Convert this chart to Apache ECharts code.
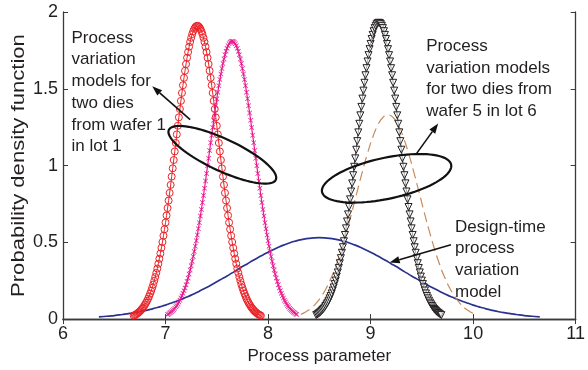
<!DOCTYPE html>
<html>
<head>
<meta charset="utf-8">
<script src="https://cdn.jsdelivr.net/npm/echarts@6/dist/echarts.min.js"></script>
<style>
  html, body { margin: 0; padding: 0; background: #fff; }
  #chart { width: 588px; height: 370px; }
</style>
</head>
<body>
<div id="chart"></div>
<script>
// Axis ranges / ticks
const xRange = [6, 11];
const yRange = [0, 2];
const xTickStep = 1;
const yTickStep = 0.5;

// Die-level models, wafer 1 / lot 1 (sampled every 0.01)
const redStart = 6.69, redStep = 0.01;
const redPdf = [
  0.023,0.026,0.030,0.034,0.039,0.045,0.051,0.058,0.066,0.074,
  0.084,0.095,0.106,0.119,0.133,0.149,0.166,0.184,0.204,0.225,
  0.249,0.274,0.301,0.329,0.360,0.393,0.427,0.464,0.502,0.543,
  0.585,0.629,0.675,0.723,0.772,0.822,0.874,0.928,0.982,1.036,
  1.092,1.147,1.203,1.259,1.314,1.368,1.421,1.473,1.523,1.571,
  1.617,1.661,1.702,1.739,1.774,1.805,1.832,1.856,1.875,1.890,
  1.901,1.908,
  1.910,
  1.908,1.901,1.890,1.875,1.856,1.832,1.805,1.774,1.739,1.702,
  1.661,1.617,1.571,1.523,1.473,1.421,1.368,1.314,1.259,1.203,
  1.147,1.092,1.036,0.982,0.928,0.874,0.822,0.772,0.723,0.675,
  0.629,0.585,0.543,0.502,0.464,0.427,0.393,0.360,0.329,0.301,
  0.274,0.249,0.225,0.204,0.184,0.166,0.149,0.133,0.119,0.106,
  0.095,0.084,0.074,0.066,0.058,0.051,0.045,0.039,0.034,0.030,
  0.026,0.023
];

const magStart = 7.02, magStep = 0.01;
const magPdf = [
  0.030,0.034,0.039,0.044,0.050,0.056,0.063,0.071,0.080,0.089,
  0.099,0.111,0.123,0.137,0.152,0.168,0.185,0.203,0.223,0.245,
  0.268,0.293,0.319,0.347,0.376,0.407,0.440,0.474,0.511,0.548,
  0.588,0.628,0.671,0.714,0.759,0.805,0.852,0.900,0.949,0.998,
  1.048,1.098,1.148,1.197,1.247,1.295,1.343,1.389,1.435,1.478,
  1.520,1.560,1.597,1.632,1.665,1.694,1.721,1.744,1.764,1.780,
  1.793,1.803,1.808,
  1.810,
  1.808,1.803,1.793,1.780,1.764,1.744,1.721,1.694,1.665,1.632,
  1.597,1.560,1.520,1.478,1.435,1.389,1.343,1.295,1.247,1.197,
  1.148,1.098,1.048,0.998,0.949,0.900,0.852,0.805,0.759,0.714,
  0.671,0.628,0.588,0.548,0.511,0.474,0.440,0.407,0.376,0.347,
  0.319,0.293,0.268,0.245,0.223,0.203,0.185,0.168,0.152,0.137,
  0.123,0.111,0.099,0.089,0.080,0.071,0.063,0.056,0.050,0.044,
  0.039,0.034,0.030
];

// Die-level models, wafer 5 / lot 6
const blackStart = 8.47, blackStep = 0.01;
const blackPdf = [
  0.026,0.030,0.035,0.040,0.045,0.052,0.059,0.066,0.075,0.085,
  0.096,0.107,0.120,0.135,0.150,0.167,0.186,0.206,0.228,0.251,
  0.277,0.304,0.333,0.364,0.397,0.432,0.468,0.507,0.548,0.591,
  0.636,0.682,0.730,0.780,0.831,0.884,0.937,0.992,1.047,1.103,
  1.159,1.216,1.272,1.327,1.382,1.436,1.488,1.539,1.588,1.634,
  1.678,1.719,1.758,1.792,1.824,1.851,1.875,1.895,1.910,1.921,
  1.928,
  1.930,
  1.928,1.921,1.910,1.895,1.875,1.851,1.824,1.792,1.758,1.719,
  1.678,1.634,1.588,1.539,1.488,1.436,1.382,1.327,1.272,1.216,
  1.159,1.103,1.047,0.992,0.937,0.884,0.831,0.780,0.730,0.682,
  0.636,0.591,0.548,0.507,0.468,0.432,0.397,0.364,0.333,0.304,
  0.277,0.251,0.228,0.206,0.186,0.167,0.150,0.135,0.120,0.107,
  0.096,0.085,0.075,0.066,0.059,0.052,0.045,0.040,0.035,0.030,
  0.026
];

const brownStart = 8.32, brownStep = 0.05;
const brownPdf = [
  0.031,0.048,0.071,0.104,0.148,0.204,0.276,0.362,0.464,0.579,
  0.703,0.833,0.961,1.080,1.183,1.263,1.313,
  1.330,
  1.313,1.263,1.183,1.080,0.961,0.833,0.703,0.579,0.464,0.362,
  0.276,0.204,0.148,0.104,0.071,0.048,0.031
];

// Design-time model (sampled every 0.05)
const blueStart = 6.35, blueStep = 0.05;
const bluePdf = [
  0.014,0.017,0.020,0.023,0.027,0.032,0.037,0.042,0.048,0.055,
  0.063,0.072,0.081,0.091,0.103,0.115,0.128,0.142,0.156,0.172,
  0.189,0.206,0.224,0.243,0.262,0.281,0.301,0.321,0.342,0.361,
  0.381,0.400,0.418,0.436,0.452,0.468,0.482,0.494,0.505,0.514,
  0.521,0.526,0.529,
  0.530,
  0.529,0.526,0.521,0.514,0.505,0.494,0.482,0.468,0.452,0.436,
  0.418,0.400,0.381,0.361,0.342,0.321,0.301,0.281,0.262,0.243,
  0.224,0.206,0.189,0.172,0.156,0.142,0.128,0.115,0.103,0.091,
  0.081,0.072,0.063,0.055,0.048,0.042,0.037,0.032,0.027,0.023,
  0.020,0.017,0.014
];

const xTitle = 'Process parameter';
const yTitle = 'Probability density function';
const labelLeft = ['Process', 'variation', 'models for', 'two dies', 'from wafer 1', 'in lot 1'];
const labelRight = ['Process', 'variation models', 'for two dies from', 'wafer 5 in lot 6'];
const labelDesign = ['Design-time', 'process', 'variation', 'model'];

function pairs(start, step, ys) {
  return ys.map((v, i) => [+(start + i * step).toFixed(3), v]);
}

const FONT = '"Liberation Sans", Arial, Helvetica, sans-serif';
const INK = '#231f20';

const chart = echarts.init(document.getElementById('chart'), null, { renderer: 'canvas' });

const frameAxis = { show: true, lineStyle: { color: '#3a3a3a', width: 1.3 } };
const innerTick = { show: true, inside: true, length: 5, lineStyle: { color: '#3a3a3a', width: 1 } };

chart.setOption({
  animation: false,
  backgroundColor: '#fff',
  grid: { left: 63, right: 7, top: 12, bottom: 44, containLabel: false },
  xAxis: [
    {
      type: 'value', min: xRange[0], max: xRange[1], interval: xTickStep,
      position: 'bottom',
      axisLine: frameAxis, axisTick: innerTick, splitLine: { show: false },
      axisLabel: { fontSize: 18, color: INK, fontFamily: FONT, margin: 6 },
      name: xTitle, nameLocation: 'middle', nameGap: 23,
      nameTextStyle: { fontSize: 17, color: INK, fontFamily: FONT }
    },
    {
      type: 'value', min: xRange[0], max: xRange[1], interval: xTickStep,
      position: 'top',
      axisLine: frameAxis, axisTick: innerTick, splitLine: { show: false },
      axisLabel: { show: false }
    }
  ],
  yAxis: [
    {
      type: 'value', min: yRange[0], max: yRange[1], interval: yTickStep,
      position: 'left',
      axisLine: frameAxis, axisTick: innerTick, splitLine: { show: false },
      axisLabel: { fontSize: 18, color: INK, fontFamily: FONT, margin: 5 }
    },
    {
      type: 'value', min: yRange[0], max: yRange[1], interval: yTickStep,
      position: 'right',
      axisLine: frameAxis, axisTick: innerTick, splitLine: { show: false },
      axisLabel: { show: false }
    }
  ],
  series: [
    {
      name: 'design', type: 'line', data: pairs(blueStart, blueStep, bluePdf),
      smooth: true, showSymbol: false, z: 2,
      lineStyle: { color: '#2b3190', width: 1.7 }
    },
    {
      name: 'brown', type: 'line', data: pairs(brownStart, brownStep, brownPdf),
      smooth: true, showSymbol: false, z: 3,
      lineStyle: { color: '#c68a5c', width: 1.2, type: [10, 5] }
    },
    {
      name: 'red', type: 'line', data: pairs(redStart, redStep, redPdf),
      symbol: 'circle', symbolSize: 7, showSymbol: true, z: 4,
      lineStyle: { color: '#ec2227', width: 1 },
      itemStyle: { color: 'rgba(0,0,0,0)', borderColor: '#ec2227', borderWidth: 1 }
    },
    {
      name: 'magenta', type: 'line', data: pairs(magStart, magStep, magPdf),
      symbol: 'path://M0,1L1,0L5,4L9,0L10,1L6,5L10,9L9,10L5,6L1,10L0,9L4,5Z',
      symbolSize: 5, showSymbol: true, z: 4,
      lineStyle: { color: '#e8168c', width: 1.2 },
      itemStyle: { color: '#e8168c' }
    },
    {
      name: 'black', type: 'line', data: pairs(blackStart, blackStep, blackPdf),
      symbol: 'triangle', symbolRotate: 180, symbolSize: 7, showSymbol: true, z: 5,
      lineStyle: { color: '#231f20', width: 1 },
      itemStyle: { color: 'rgba(255,255,255,0.6)', borderColor: '#231f20', borderWidth: 1 }
    }
  ]
});

// ---- annotations, anchored in data units ----
function px(x, y) { return chart.convertToPixel({ xAxisIndex: 0, yAxisIndex: 0 }, [x, y]); }

function ellipse(cx, cy, a, b, deg) {
  const c = px(cx, cy), t = deg * Math.PI / 180, pts = [];
  for (let i = 0; i < 90; i++) {
    const u = i / 90 * Math.PI * 2;
    const ex = a * Math.cos(u), ey = b * Math.sin(u);
    pts.push([c[0] + ex * Math.cos(t) - ey * Math.sin(t), c[1] + ex * Math.sin(t) + ey * Math.cos(t)]);
  }
  return { type: 'polygon', z: 50, shape: { points: pts },
           style: { fill: 'none', stroke: '#111', lineWidth: 2.2 } };
}

function arrow(x0, y0, x1, y1) {
  const p0 = px(x0, y0), p1 = px(x1, y1);
  const dx = p1[0] - p0[0], dy = p1[1] - p0[1], L = Math.hypot(dx, dy);
  const ux = dx / L, uy = dy / L, hl = 10, hw = 3.6;
  const bx = p1[0] - ux * hl, by = p1[1] - uy * hl;
  return [
    { type: 'line', z: 50, shape: { x1: p0[0], y1: p0[1], x2: bx, y2: by },
      style: { stroke: '#111', lineWidth: 1.6 } },
    { type: 'polygon', z: 50, shape: { points: [[p1[0], p1[1]], [bx - uy * hw, by + ux * hw], [bx + uy * hw, by - ux * hw]] },
      style: { fill: '#111' } }
  ];
}

function note(lines, x, y) {
  const p = px(x, y);
  return { type: 'text', z: 50, x: p[0], y: p[1],
           style: { text: lines.join('\n'), fill: INK, font: '17px ' + FONT, lineHeight: 21.7,
                    align: 'left', verticalAlign: 'top' } };
}

// vertical axis title, centred on the plot's height
const yMid = px(xRange[0], (yRange[0] + yRange[1]) / 2);

chart.setOption({
  graphic: [
    ellipse(7.554, 1.07, 59, 16, 25),
    ellipse(9.156, 0.917, 66, 20.5, -12),
    ...arrow(7.24, 1.299, 6.87, 1.516),
    ...arrow(9.446, 1.076, 9.659, 1.274),
    ...arrow(9.784, 0.484, 9.186, 0.369),
    note(labelLeft, 6.083, 1.901),
    note(labelRight, 9.543, 1.848),
    note(labelDesign, 9.823, 0.670),
    { type: 'text', z: 50, x: 19, y: yMid[1], rotation: Math.PI / 2, scaleX: 1.3, scaleY: 1.05,
      style: { text: yTitle, fill: INK, font: '17px ' + FONT, align: 'center', verticalAlign: 'middle' } }
  ]
});
</script>
</body>
</html>
